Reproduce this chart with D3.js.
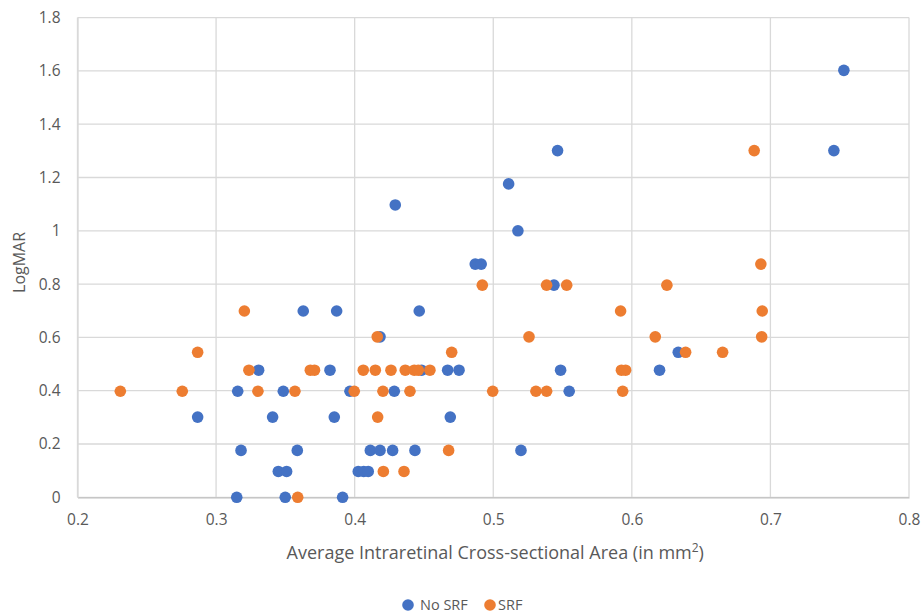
<!DOCTYPE html>
<html>
<head>
<meta charset="utf-8">
<script src="https://cdn.jsdelivr.net/npm/d3@7"></script>
<style>
  body { margin: 0; background: #fff; }
  svg text { font-family: "Open Sans", sans-serif; fill: #595959; }
</style>
</head>
<body>
<svg id="chart"></svg>
<script>
// No SRF series (area in mm2, LogMAR)
const noSrfX = [0.3629,0.3307,0.3156,0.3485,0.2867,0.3408,0.3180,0.3586,0.3449,0.3509,0.3149,0.3499,
  0.3870,0.4466,0.4183,0.3822,0.4483,0.4671,0.4753,0.3966,0.4286,0.3853,0.4690,0.4113,0.4183,0.4274,
  0.4435,0.5200,0.4026,0.4065,0.4098,0.3913,0.4870,0.4913,0.5438,0.6335,0.5486,0.6200,0.5548,0.7530,
  0.7458,0.5464,0.5111,0.4293,0.5178];
const noSrfY = [0.699,0.477,0.398,0.398,0.301,0.301,0.176,0.176,0.097,0.097,0,0,
  0.699,0.699,0.602,0.477,0.477,0.477,0.477,0.398,0.398,0.301,0.301,0.176,0.176,0.176,
  0.176,0.176,0.097,0.097,0.097,0,0.875,0.875,0.796,0.544,0.477,0.477,0.398,1.602,
  1.301,1.301,1.176,1.097,1.0];
// SRF series
const srfX = [0.3204,0.2867,0.3237,0.3680,0.3710,0.2309,0.2756,0.3302,0.3569,0.3589,0.4921,0.4163,
  0.4700,0.4062,0.4149,0.4262,0.4365,0.4430,0.4459,0.4543,0.3997,0.4204,0.4399,0.4996,0.4166,0.4678,
  0.4207,0.4356,0.5385,0.5530,0.6253,0.5919,0.5258,0.6169,0.6388,0.5925,0.5955,0.5308,0.5385,0.5934,
  0.6883,0.6931,0.6941,0.6937,0.6655];
const srfY = [0.699,0.544,0.477,0.477,0.477,0.398,0.398,0.398,0.398,0,0.796,0.602,
  0.544,0.477,0.477,0.477,0.477,0.477,0.477,0.477,0.398,0.398,0.398,0.398,0.301,0.176,
  0.097,0.097,0.796,0.796,0.796,0.699,0.602,0.602,0.544,0.477,0.477,0.398,0.398,0.398,
  1.301,0.875,0.699,0.602,0.544];

const xTicks = [0.2,0.3,0.4,0.5,0.6,0.7,0.8];
const yTicks = [0,0.2,0.4,0.6,0.8,1,1.2,1.4,1.6,1.8];
const seriesNames = ["No SRF","SRF"];
const colors = ["#4472C4","#ED7D31"];

const width = 922, height = 614;
const plotLeft = 77.5, plotRight = 909, plotTop = 17.6, plotBottom = 497.3;

const svg = d3.select("#chart").attr("width", width).attr("height", height);

const x = d3.scaleLinear().domain([0.2,0.8]).range([plotLeft,plotRight]);
const y = d3.scaleLinear().domain([0,1.8]).range([plotBottom,plotTop]);

// gridlines
svg.append("g").selectAll("line").data(yTicks).enter().append("line")
  .attr("x1", plotLeft).attr("x2", plotRight)
  .attr("y1", d => y(d)).attr("y2", d => y(d))
  .style("stroke", "#d9d9d9").style("stroke-width", 1.3);
svg.append("g").selectAll("line").data(xTicks).enter().append("line")
  .attr("y1", plotTop).attr("y2", plotBottom)
  .attr("x1", d => x(d)).attr("x2", d => x(d))
  .style("stroke", "#d9d9d9").style("stroke-width", 1.3);

// axes (labels only, lines drawn as grid)
const xAxis = svg.append("g").attr("transform", "translate(0," + plotBottom + ")")
  .call(d3.axisBottom(x).tickValues(xTicks).tickSize(0).tickPadding(17).tickFormat(d3.format(".1f")));
xAxis.select(".domain").style("stroke", "#bfbfbf").style("stroke-width", 1.3);
xAxis.selectAll("text").style("font-size", "15.5px");

const yAxis = svg.append("g").attr("transform", "translate(" + plotLeft + ",0)")
  .call(d3.axisLeft(y).tickValues(yTicks).tickSize(0).tickPadding(17).tickFormat(d => d === 0 ? "0" : d3.format("")(+d.toFixed(1))));
yAxis.select(".domain").style("stroke", "#d9d9d9").style("stroke-width", 1.3);
yAxis.selectAll("text").style("font-size", "15.5px");

// axis titles
const xt = svg.append("text")
  .attr("x", (plotLeft + plotRight) / 2 + 2).attr("y", 559)
  .attr("text-anchor", "middle").style("font-size", "18px")
  .text("Average Intraretinal Cross-sectional Area (in mm");
xt.append("tspan").attr("dy", -7).style("font-size", "12px").text("2");
xt.append("tspan").attr("dy", 7).text(")");

svg.append("text")
  .attr("transform", "translate(25," + ((plotTop + plotBottom) / 2 + 5) + ") rotate(-90)")
  .attr("text-anchor", "middle").style("font-size", "16px")
  .text("LogMAR");

// points
const series = [
  { xs: noSrfX, ys: noSrfY, color: colors[0] },
  { xs: srfX, ys: srfY, color: colors[1] }
];
series.forEach(s => {
  svg.append("g").selectAll("circle")
    .data(s.xs.map((v, i) => [v, s.ys[i]]))
    .enter().append("circle")
    .attr("cx", d => x(d[0]))
    .attr("cy", d => y(d[1]))
    .attr("r", 5.8)
    .style("fill", s.color);
});

// legend
const legendX = [408, 490];
const lg = svg.append("g");
seriesNames.forEach((name, i) => {
  lg.append("circle").attr("cx", legendX[i]).attr("cy", 605).attr("r", 5.8).style("fill", colors[i]);
  lg.append("text").attr("x", legendX[i] + (i === 0 ? 12 : 8)).attr("y", 609.5).style("font-size", "14.5px").text(name);
});
</script>
</body>
</html>
